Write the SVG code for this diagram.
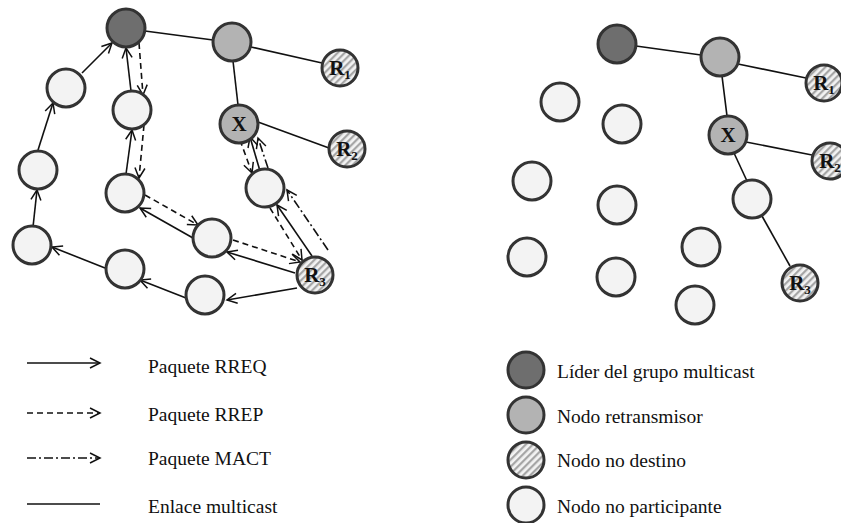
<svg xmlns="http://www.w3.org/2000/svg" width="841" height="523" viewBox="0 0 841 523">
<style>
.nd{stroke:#333;stroke-width:3}
.lead{fill:#6e6e6e}
.rel{fill:#b3b3b3}
.dst{fill:url(#hatch)}
.np{fill:#f3f3f3}
.ln{stroke:#111;stroke-width:1.6;fill:none}
.req{marker-end:url(#ah)}
.rep{stroke-dasharray:6,4;marker-end:url(#ah)}
.mact{stroke-dasharray:9,3,2,3;marker-end:url(#ah)}
.lbl{font-family:"Liberation Serif","Times New Roman",serif;font-weight:bold;font-size:21px;fill:#111}
.sub{font-size:13px}
.leg{font-family:"Liberation Serif","Times New Roman",serif;font-size:19.5px;fill:#111}
</style>
<defs>
<pattern id="hatch" width="5" height="5" patternUnits="userSpaceOnUse" patternTransform="rotate(45)">
<rect width="5" height="5" fill="#f2f2f2"/>
<rect width="2.2" height="5" fill="#a6a6a6"/>
</pattern>
<marker id="ah" markerUnits="userSpaceOnUse" markerWidth="12" markerHeight="12" refX="10" refY="5" orient="auto" overflow="visible">
<path d="M0,0 L10,5 L0,10" fill="none" stroke="#111" stroke-width="1.5"/>
</marker>
</defs>
<rect width="841" height="523" fill="#fff"/>

<g id="connectors">
<!-- left: multicast links -->
<line class="ln" x1="145" y1="31" x2="213" y2="40"/>
<line class="ln" x1="251" y1="47" x2="322" y2="63"/>
<line class="ln" x1="233" y1="61" x2="238" y2="105"/>
<line class="ln" x1="258" y1="122" x2="329" y2="148"/>
<!-- left: RREQ solid arrows -->
<line class="ln req" x1="82" y1="73" x2="112" y2="43"/>
<line class="ln req" x1="38" y1="150" x2="53" y2="103"/>
<line class="ln req" x1="33" y1="227" x2="37" y2="190"/>
<line class="ln req" x1="105" y1="268" x2="52" y2="247"/>
<line class="ln req" x1="186" y1="298" x2="140" y2="280"/>
<line class="ln req" x1="297" y1="288" x2="227" y2="300"/>
<line class="ln req" x1="295" y1="273" x2="227" y2="252"/>
<line class="ln req" x1="193" y1="238" x2="140" y2="208"/>
<line class="ln req" x1="126" y1="174" x2="132" y2="130"/>
<line class="ln req" x1="131" y1="91" x2="126" y2="48"/>
<line class="ln req" x1="312" y1="256" x2="277" y2="205"/>
<line class="ln req" x1="260" y1="171" x2="250" y2="137"/>
<!-- left: RREP dashed arrows -->
<line class="ln rep" x1="139" y1="43" x2="143" y2="95"/>
<line class="ln rep" x1="144" y1="125" x2="139" y2="178"/>
<line class="ln rep" x1="145" y1="195" x2="198" y2="225"/>
<line class="ln rep" x1="233" y1="240" x2="300" y2="262"/>
<line class="ln rep" x1="240" y1="140" x2="252" y2="173"/>
<line class="ln rep" x1="270" y1="208" x2="302" y2="260"/>
<!-- left: MACT dash-dot arrows -->
<line class="ln mact" x1="328" y1="250" x2="287" y2="190"/>
<line class="ln mact" x1="268" y1="168" x2="258" y2="138"/>
<!-- right: multicast tree -->
<line class="ln" x1="636" y1="46" x2="701" y2="55"/>
<line class="ln" x1="738" y1="64" x2="806" y2="78"/>
<line class="ln" x1="722" y1="76" x2="727" y2="116"/>
<line class="ln" x1="746" y1="142" x2="812" y2="155"/>
<line class="ln" x1="734" y1="153" x2="747" y2="181"/>
<line class="ln" x1="762" y1="216" x2="790" y2="266"/>
<!-- legend lines -->
<line class="ln req" x1="27" y1="363" x2="100" y2="363"/>
<line class="ln rep" x1="27" y1="413" x2="100" y2="413"/>
<line class="ln mact" x1="27" y1="458" x2="100" y2="458"/>
<line class="ln" x1="27" y1="504" x2="100" y2="504"/>
</g>

<!-- left diagram nodes -->
<g id="L-leader"><circle class="nd lead" cx="126" cy="28" r="19"/></g>
<g id="L-relay"><circle class="nd rel" cx="232" cy="42" r="19"/></g>
<g id="L-R1"><circle class="nd dst" cx="340" cy="68" r="18"/><text class="lbl" x="340" y="75" text-anchor="middle">R<tspan class="sub" dy="4">1</tspan></text></g>
<g id="L-X"><circle class="nd rel" cx="239" cy="124" r="19"/><text class="lbl" x="239" y="131" text-anchor="middle">X</text></g>
<g id="L-R2"><circle class="nd dst" cx="347" cy="149" r="18"/><text class="lbl" x="347" y="156" text-anchor="middle">R<tspan class="sub" dy="4">2</tspan></text></g>
<g id="L-n1"><circle class="nd np" cx="66" cy="88" r="19"/></g>
<g id="L-n2"><circle class="nd np" cx="38" cy="170" r="19"/></g>
<g id="L-n3"><circle class="nd np" cx="32" cy="245" r="19"/></g>
<g id="L-n4"><circle class="nd np" cx="132" cy="110" r="19"/></g>
<g id="L-n5"><circle class="nd np" cx="125" cy="193" r="19"/></g>
<g id="L-n6"><circle class="nd np" cx="212" cy="238" r="19"/></g>
<g id="L-n7"><circle class="nd np" cx="265" cy="188" r="19"/></g>
<g id="L-R3"><circle class="nd dst" cx="315" cy="275" r="18"/><text class="lbl" x="315" y="282" text-anchor="middle">R<tspan class="sub" dy="4">3</tspan></text></g>
<g id="L-n8"><circle class="nd np" cx="125" cy="269" r="19"/></g>
<g id="L-n9"><circle class="nd np" cx="205" cy="295" r="19"/></g>

<!-- right diagram nodes -->
<g id="R-leader"><circle class="nd lead" cx="617" cy="44" r="19"/></g>
<g id="R-relay"><circle class="nd rel" cx="720" cy="57" r="19"/></g>
<g id="R-R1"><circle class="nd dst" cx="824" cy="83" r="18"/><text class="lbl" x="824" y="90" text-anchor="middle">R<tspan class="sub" dy="4">1</tspan></text></g>
<g id="R-X"><circle class="nd rel" cx="728" cy="135" r="19"/><text class="lbl" x="728" y="142" text-anchor="middle">X</text></g>
<g id="R-R2"><circle class="nd dst" cx="830" cy="161" r="18"/><text class="lbl" x="830" y="168" text-anchor="middle">R<tspan class="sub" dy="4">2</tspan></text></g>
<g id="R-n"><circle class="nd np" cx="752" cy="199" r="19"/></g>
<g id="R-R3"><circle class="nd dst" cx="800" cy="283" r="18"/><text class="lbl" x="800" y="290" text-anchor="middle">R<tspan class="sub" dy="4">3</tspan></text></g>
<g id="R-p1"><circle class="nd np" cx="560" cy="102" r="19"/></g>
<g id="R-p2"><circle class="nd np" cx="622" cy="124" r="19"/></g>
<g id="R-p3"><circle class="nd np" cx="532" cy="181" r="19"/></g>
<g id="R-p4"><circle class="nd np" cx="617" cy="205" r="19"/></g>
<g id="R-p5"><circle class="nd np" cx="527" cy="257" r="19"/></g>
<g id="R-p6"><circle class="nd np" cx="616" cy="277" r="19"/></g>
<g id="R-p7"><circle class="nd np" cx="701" cy="247" r="19"/></g>
<g id="R-p8"><circle class="nd np" cx="695" cy="305" r="19"/></g>

<!-- legend left texts -->
<g id="legend-packets">
<text class="leg" x="148" y="373">Paquete RREQ</text>
<text class="leg" x="148" y="421">Paquete RREP</text>
<text class="leg" x="148" y="465">Paquete MACT</text>
<text class="leg" x="148" y="513">Enlace multicast</text>
</g>
<!-- legend right -->
<g id="legend-nodes">
<circle class="nd lead" cx="526" cy="370" r="18"/>
<circle class="nd rel" cx="526" cy="415" r="18"/>
<circle class="nd dst" cx="526" cy="460" r="18"/>
<circle class="nd np" cx="526" cy="505" r="18"/>
<text class="leg" x="557" y="378">Líder del grupo multicast</text>
<text class="leg" x="557" y="423">Nodo retransmisor</text>
<text class="leg" x="557" y="467">Nodo no destino</text>
<text class="leg" x="557" y="513">Nodo no participante</text>
</g>
</svg>
